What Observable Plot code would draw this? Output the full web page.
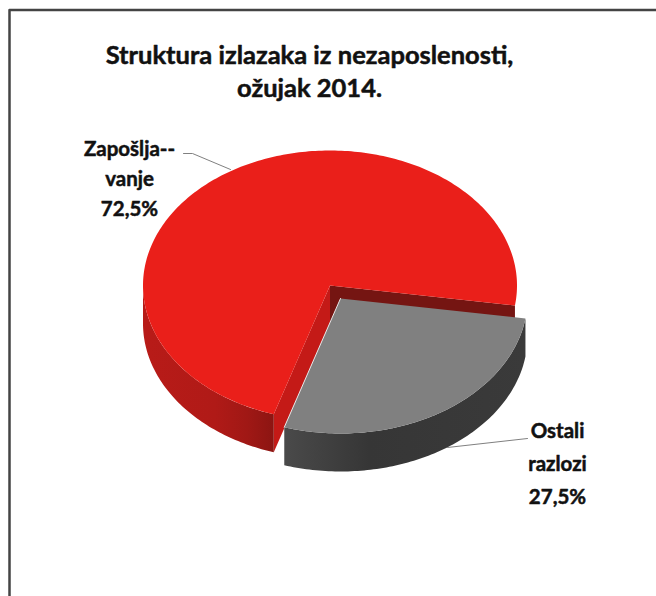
<!DOCTYPE html>
<html><head><meta charset="utf-8">
<style>html,body{margin:0;padding:0;background:#fff}svg{display:block}</style>
<script src="https://cdn.jsdelivr.net/npm/d3@7"></script>
<script src="https://cdn.jsdelivr.net/npm/@observablehq/plot@0.6"></script>
</head><body><script>
const categories = ["Zapošljavanje", "Ostali razlozi"];
const values = [72.5, 27.5];
const labelLines = [["Zapošlja--", "vanje", "72,5%"], ["Ostali", "razlozi", "27,5%"]];
const titleLines = ["Struktura izlazaka iz nezaposlenosti,", "ožujak 2014."];

// pie projection, in the plot's pixel-like units
const rx = 187, ry = 135, depth = 38, startDeg = 8.5;
const redCentre = [329.5, 285], greyCentre = [340, 298];

const rad = d => d * Math.PI / 180;
const greyEnd = startDeg + values[1] / d3.sum(values) * 360;
const pt = (c, t, dy = 0) => ({x: c[0] + rx * Math.cos(rad(t)), y: c[1] + ry * Math.sin(rad(t)) + dy});
const arc = (c, a, b, dy = 0) => {
  const n = Math.ceil(Math.abs(b - a)), out = [];
  for (let i = 0; i <= n; i++) out.push(pt(c, a + (b - a) * i / n, dy));
  return out;
};
const off = (c, dy = 0) => ({x: c[0], y: c[1] + dy});

const redTop = [off(redCentre), ...arc(redCentre, greyEnd, startDeg + 360)];
const redWall = [...arc(redCentre, greyEnd, 180), ...arc(redCentre, 180, greyEnd, depth)];
const redCutA = [off(redCentre), pt(redCentre, greyEnd), pt(redCentre, greyEnd, depth), off(redCentre, depth)];
const redCutB = [off(redCentre), pt(redCentre, startDeg), pt(redCentre, startDeg, depth), off(redCentre, depth)];
const greyTop = [off(greyCentre), ...arc(greyCentre, startDeg, greyEnd)];
const greyWall = [...arc(greyCentre, startDeg, greyEnd), ...arc(greyCentre, greyEnd, startDeg, depth)];
const greyEdge = [off(greyCentre), pt(greyCentre, greyEnd)];

const leaderA = [{x: 183, y: 153}, {x: 192, y: 153}, {x: 230, y: 169}];
const leaderB = [{x: 527, y: 438}, {x: 447, y: 447}];
const frame = [{x: 9, y: 596}, {x: 9, y: 9.5}, {x: 656, y: 9.5}];

const titleText = titleLines.map((t, i) => ({t, x: 309, y: [55, 88][i]}));
const labelText = [
  ...labelLines[0].map((t, i) => ({t, x: 129, y: [149, 179, 209][i]})),
  ...labelLines[1].map((t, i) => ({t, x: 557, y: [431, 464, 497][i]}))
];

const XY = {x: "x", y: "y"};
const font = "Lato, 'Open Sans', sans-serif";
const chart = Plot.plot({
  width: 656, height: 596, margin: 0,
  x: {domain: [0, 656], range: [0, 656], axis: null},
  y: {domain: [0, 596], range: [0, 596], axis: null},
  marks: [
    Plot.line(frame, {...XY, stroke: "#444", strokeWidth: 2.5}),
    Plot.line(redCutB, {...XY, fill: "#751512", stroke: "none"}),
    Plot.line(redCutA, {...XY, fill: "#c41a17", stroke: "none"}),
    Plot.line(redWall, {...XY, fill: "url(#redSide)", stroke: "none"}),
    Plot.line(redTop, {...XY, fill: "#ea1f1a", stroke: "none"}),
    Plot.line(greyWall, {...XY, fill: "url(#greySide)", stroke: "none"}),
    Plot.line(greyTop, {...XY, fill: "#808080", stroke: "none"}),
    Plot.line(greyEdge, {...XY, stroke: "#e8e8e8", strokeWidth: 1}),
    Plot.line(leaderA, {...XY, stroke: "#808080", strokeWidth: 1}),
    Plot.line(leaderB, {...XY, stroke: "#808080", strokeWidth: 1}),
    Plot.text(titleText, {...XY, text: "t", fontSize: 25.5, fontWeight: 700, fontFamily: font, fill: "#111", stroke: "#111", strokeWidth: 0.5}),
    Plot.text(labelText, {...XY, text: "t", fontSize: 20.5, fontWeight: 700, fontFamily: font, fill: "#111", stroke: "#111", strokeWidth: 0.5})
  ]
});
d3.select(chart).append("defs").html(`
  <linearGradient id="redSide" x1="0" x2="1" y1="0" y2="0">
    <stop offset="0" stop-color="#b81b18"/><stop offset="0.55" stop-color="#b01a17"/><stop offset="0.8" stop-color="#a01815"/><stop offset="1" stop-color="#8c1512"/>
  </linearGradient>
  <linearGradient id="greySide" x1="0" x2="1" y1="0" y2="0">
    <stop offset="0" stop-color="#4a4a4a"/><stop offset="0.35" stop-color="#363636"/><stop offset="1" stop-color="#3a3a3a"/>
  </linearGradient>`);
document.body.append(chart);
</script></body></html>
